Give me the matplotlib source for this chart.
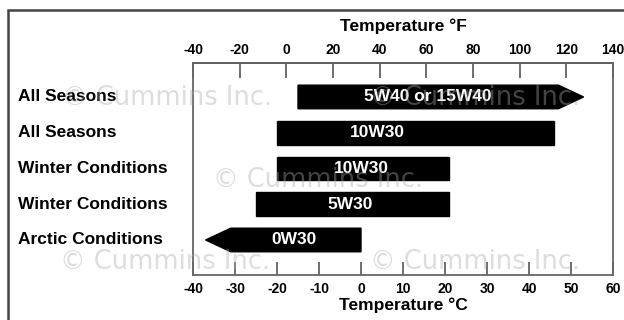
import matplotlib
matplotlib.use("Agg")
import matplotlib.pyplot as plt
from matplotlib.patches import Rectangle
from matplotlib.transforms import blended_transform_factory

# oil viscosity recommendations, temperatures in deg C
conditions = ["All Seasons", "All Seasons", "Winter Conditions",
              "Winter Conditions", "Arctic Conditions"]
oils = ["5W40 or 15W40", "10W30", "10W30", "5W30", "0W30"]
low_c = [-15, -20, -20, -25, -31]
high_c = [47, 46, 21, 21, 0]
# arrow tips (None = square end)
right_tip = [53, None, None, None, None]
left_tip = [None, None, None, None, -37]
label_x = [16, 4, 0, -2.5, -16]

c_ticks = [-40, -30, -20, -10, 0, 10, 20, 30, 40, 50, 60]
f_ticks = [-40, -20, 0, 20, 40, 60, 80, 100, 120, 140]

FONT = "Liberation Sans"
W, H = 624, 320
fig = plt.figure(figsize=(W / 100, H / 100), dpi=100)
fig.patch.set_facecolor("white")

# outer frame (runs off the right/bottom of the picture)
fig.patches.append(Rectangle((8 / W, -0.2), 1.2, 1.2 - 10 / H,
                             transform=fig.transFigure, fill=False,
                             edgecolor="#444444", linewidth=1.8))

ax = fig.add_axes([193 / W, 1 - 275 / H, 420 / W, 212 / H])
ax.set_xlim(-40, 60)
ax.set_ylim(4.98, -0.95)
row_trans = blended_transform_factory(fig.transFigure, ax.transData)

h = 0.66
for i in range(len(oils)):
    x0, x1 = low_c[i], high_c[i]
    xs = [x0, x1, x1, x0]
    ys = [i - h / 2, i - h / 2, i + h / 2, i + h / 2]
    if right_tip[i] is not None:
        xs = [x0, x1, right_tip[i], x1, x0]
        ys = [i - h / 2, i - h / 2, i, i + h / 2, i + h / 2]
    if left_tip[i] is not None:
        xs = [x0, x1, x1, x0, left_tip[i]]
        ys = [i - h / 2, i - h / 2, i + h / 2, i + h / 2, i]
    ax.fill(xs, ys, color="black", zorder=2)
    ax.text(label_x[i], i, oils[i], color="white", fontsize=12.5,
            fontweight="bold", family=FONT,
            ha="center", va="center", zorder=3)
    ax.text(18 / W, i, conditions[i], fontsize=12.5, fontweight="bold",
            family=FONT, ha="left", va="center",
            transform=row_trans, clip_on=False)

ax.set_yticks([])
ax.set_xticks(c_ticks)
ax.set_xticklabels([str(t) for t in c_ticks], fontsize=10, fontweight="bold",
                   family=FONT)
ax.tick_params(axis="x", direction="in", length=9.5, width=1.2,
               color="#555555", pad=5)
ax.set_xlabel("Temperature \u00b0C", fontsize=12.5, fontweight="bold",
              family=FONT, labelpad=1)
for s in ax.spines.values():
    s.set_color("#666666")
    s.set_linewidth(1.3)

sec = ax.secondary_xaxis("top", functions=(lambda c: c * 9 / 5 + 32,
                                           lambda f: (f - 32) * 5 / 9))
sec.set_xticks(f_ticks)
sec.set_xticklabels([str(t) for t in f_ticks], fontsize=10, fontweight="bold",
                    family=FONT)
sec.tick_params(axis="x", direction="in", length=11, width=1.2,
                color="#555555", pad=4)
sec.set_xlabel("Temperature \u00b0F", fontsize=12.5, fontweight="bold",
               family=FONT, labelpad=9)
sec.spines["top"].set_color("#333333")
sec.spines["top"].set_linewidth(1.3)

# watermarks
marks = [(62, 98), (370, 98), (213, 180), (60, 262), (370, 262)]
for mx, my in marks:
    fig.text(mx / W, 1 - my / H, "\u00a9 Cummins Inc.", fontsize=18.5,
             family="DejaVu Sans", color="#aaaaaa", alpha=0.4,
             ha="left", va="center", zorder=10)

fig.savefig("out.png", dpi=100, facecolor="white")
